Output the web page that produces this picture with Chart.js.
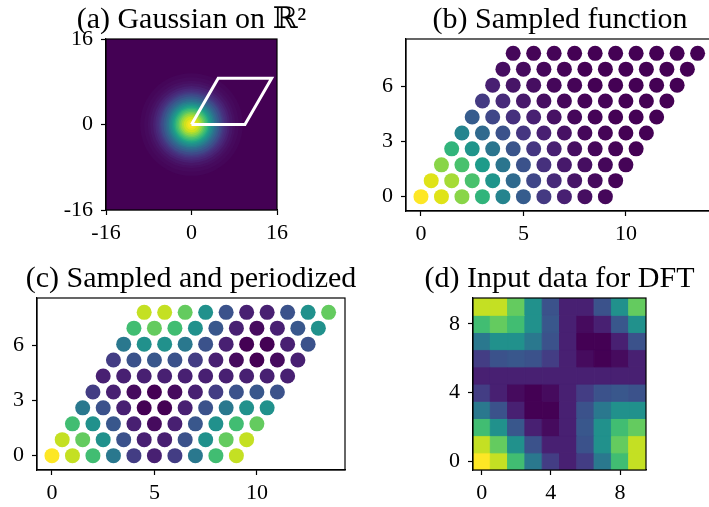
<!DOCTYPE html>
<html>
<head>
<meta charset="utf-8">
<script src="https://cdn.jsdelivr.net/npm/chart.js@4.4.1/dist/chart.umd.min.js"></script>
<style>
  html, body { margin: 0; padding: 0; background: #fff; overflow: hidden; }
  body { width: 709px; height: 507px; position: relative; }
  canvas { position: absolute; }
</style>
</head>
<body>
<canvas id="gaussChart" width="383" height="254" style="left:0;top:0"></canvas>
<canvas id="sampledChart" width="400" height="254" style="left:360px;top:0"></canvas>
<canvas id="periodicChart" width="382" height="253" style="left:0;top:254px"></canvas>
<canvas id="dftChart" width="301" height="253" style="left:409px;top:254px"></canvas>
<script>
// Values

// (a) Gaussian: level -> radius where the image reaches that level
const gaussLevels = [0.01, 0.02, 0.035, 0.05, 0.075, 0.1, 0.125, 0.15, 0.175, 0.2, 0.25, 0.3, 0.35, 0.4,
    0.45, 0.5, 0.55, 0.6, 0.65, 0.7, 0.75, 0.8, 0.85, 0.9, 0.95, 0.98];
const gaussRadii = [9.6, 8.85, 8.19, 7.74, 7.2, 6.79, 6.45, 6.16, 5.9, 5.67, 5.27, 4.91, 4.58, 4.28,
    4.0, 3.72, 3.46, 3.2, 2.94, 2.67, 2.4, 2.11, 1.8, 1.45, 1.01, 0.64];
// period cell (white outline)
const cellX = [0, 10, 15, 5, 0];
const cellY = [0, 0, 8.66, 8.66, 0];

// lattice rows (b), (c)
const rowShift = [0, 0.5, 1, 1.5, 2, 2.5, 3, 3.5, 4, 4.5];
const rowHeight = [0, 0.87, 1.73, 2.6, 3.46, 4.33, 5.2, 6.06, 6.93, 7.79];
const colIndex = [0, 1, 2, 3, 4, 5, 6, 7, 8, 9];

// (b) sampled values, row j = 0 (bottom) .. 9 (top)
const sampledValues = [
    [1.00, 0.95, 0.82, 0.64, 0.45, 0.29, 0.17, 0.09, 0.04, 0.02],
    [0.95, 0.86, 0.71, 0.52, 0.35, 0.21, 0.12, 0.06, 0.03, 0.01],
    [0.82, 0.71, 0.55, 0.39, 0.25, 0.14, 0.07, 0.04, 0.02, 0.01],
    [0.64, 0.52, 0.39, 0.26, 0.16, 0.09, 0.04, 0.02, 0.01, 0.00],
    [0.45, 0.35, 0.25, 0.16, 0.09, 0.05, 0.02, 0.01, 0.00, 0.00],
    [0.29, 0.21, 0.14, 0.09, 0.05, 0.02, 0.01, 0.00, 0.00, 0.00],
    [0.17, 0.12, 0.07, 0.04, 0.02, 0.01, 0.01, 0.00, 0.00, 0.00],
    [0.09, 0.06, 0.04, 0.02, 0.01, 0.00, 0.00, 0.00, 0.00, 0.00],
    [0.04, 0.03, 0.02, 0.01, 0.00, 0.00, 0.00, 0.00, 0.00, 0.00],
    [0.02, 0.01, 0.01, 0.00, 0.00, 0.00, 0.00, 0.00, 0.00, 0.00]
];

// (c) and (d) periodized values, same layout
const periodicValues = [
    [1.00, 0.91, 0.69, 0.40, 0.18, 0.09, 0.18, 0.40, 0.69, 0.91],
    [0.91, 0.76, 0.50, 0.25, 0.09, 0.09, 0.25, 0.50, 0.76, 0.91],
    [0.69, 0.50, 0.27, 0.09, 0.03, 0.09, 0.27, 0.50, 0.69, 0.76],
    [0.40, 0.25, 0.09, 0.00, 0.00, 0.09, 0.25, 0.40, 0.50, 0.50],
    [0.18, 0.09, 0.03, 0.00, 0.03, 0.09, 0.18, 0.25, 0.27, 0.25],
    [0.09, 0.09, 0.09, 0.09, 0.09, 0.09, 0.09, 0.09, 0.09, 0.09],
    [0.18, 0.25, 0.27, 0.25, 0.18, 0.09, 0.03, 0.00, 0.03, 0.09],
    [0.40, 0.50, 0.50, 0.40, 0.25, 0.09, 0.00, 0.00, 0.09, 0.25],
    [0.69, 0.76, 0.69, 0.50, 0.27, 0.09, 0.03, 0.09, 0.27, 0.50],
    [0.91, 0.91, 0.76, 0.50, 0.25, 0.09, 0.09, 0.25, 0.50, 0.76]
];

const gaussTicks = [-16, 0, 16];
const latticeXTicks = [0, 5, 10];
const latticeYTicks = [0, 3, 6];
const dftTicks = [0, 4, 8];

// Colormap
const VIRIDIS = ['#440154', '#471164', '#482475', '#46337f', '#414487', '#3b528b', '#355f8d',
    '#306a8e', '#2a788e', '#25848e', '#21918c', '#1e9b8a', '#22a884', '#35b779', '#44bf70',
    '#5ec962', '#7ad151', '#9fda3a', '#bddf26', '#dfe318', '#fde725'];

function viridis(t) {
    t = Math.max(0, Math.min(1, t));
    const pos = t * (VIRIDIS.length - 1);
    const i = Math.min(VIRIDIS.length - 2, Math.floor(pos));
    const f = pos - i;
    const a = parseInt(VIRIDIS[i].slice(1), 16), b = parseInt(VIRIDIS[i + 1].slice(1), 16);
    const mix = sh => Math.round(((a >> sh) & 255) * (1 - f) + ((b >> sh) & 255) * f);
    return `rgb(${mix(16)},${mix(8)},${mix(0)})`;
}

const SERIF = "'Liberation Serif', 'DejaVu Serif', serif";

// Helpers
function makeScale(min, max, ticks, side, size) {
    return {
        type: 'linear', min, max,
        afterBuildTicks: axis => { axis.ticks = ticks.map(value => ({ value })); },
        afterFit: axis => { if (side === 'y') axis.width = size; else axis.height = size; },
        grid: { drawOnChartArea: false, drawTicks: true, tickLength: 5, tickWidth: 1.2, tickColor: '#000' },
        border: { display: true, color: '#000', width: 1.2 },
        ticks: {
            color: '#000', font: { family: SERIF, size: 22 }, padding: side === 'y' ? 8 : 5,
            autoSkip: false, maxRotation: 0, callback: v => String(v)
        }
    };
}

// empty right-hand box so the canvas is centred on the plot area (title centres on it)
function spacer(size) {
    return {
        type: 'linear', position: 'right', display: true,
        grid: { display: false }, border: { display: false }, ticks: { display: false },
        afterFit: axis => { axis.width = size; }
    };
}

const framePlugin = {
    id: 'frame',
    afterDraw(chart) {
        const { ctx, chartArea: a } = chart;
        ctx.save();
        ctx.strokeStyle = '#000';
        ctx.lineWidth = 1.2;
        ctx.strokeRect(a.left, a.top, a.right - a.left, a.bottom - a.top);
        ctx.restore();
    }
};

const backdropPlugin = {
    id: 'backdrop',
    beforeDatasetsDraw(chart) {
        const { ctx, chartArea: a } = chart;
        ctx.save();
        ctx.fillStyle = viridis(0);
        ctx.fillRect(a.left, a.top, a.right - a.left, a.bottom - a.top);
        ctx.restore();
    }
};

function baseOptions(title, titleTop, side, xHeight, xr, yr, xt, yt) {
    return {
        responsive: false, animation: false, devicePixelRatio: 1, events: [],
        layout: { padding: 0 },
        plugins: {
            legend: { display: false },
            tooltip: { enabled: false },
            title: {
                display: true, text: title, color: '#000',
                font: { family: SERIF, size: 30, weight: 'normal', lineHeight: 1 },
                padding: { top: titleTop, bottom: 4 }
            }
        },
        scales: {
            x: makeScale(xr[0], xr[1], xt, 'x', xHeight),
            y: makeScale(yr[0], yr[1], yt, 'y', side),
            pad: spacer(side)
        }
    };
}

function latticePoints(values) {
    const pts = [];
    rowHeight.forEach((y, j) => colIndex.forEach(i => pts.push({ x: rowShift[j] + i, y, v: values[j][i] })));
    return pts;
}

function pxPerUnit(chart) {
    const s = chart.scales.x;
    return Math.abs(s.getPixelForValue(1) - s.getPixelForValue(0));
}

// (a) Gaussian on R^2
new Chart(document.getElementById('gaussChart'), {
    type: 'scatter',
    data: {
        datasets: [{
            data: cellX.map((x, k) => ({ x, y: cellY[k] })),
            showLine: true, borderColor: '#fff', borderWidth: 3, pointRadius: 0, fill: false
        }, {
            data: gaussRadii.map((rad, k) => ({ x: 0, y: 0, rad, v: gaussLevels[k] })),
            pointRadius: ctx => ctx.raw.rad * pxPerUnit(ctx.chart),
            backgroundColor: ctx => {
                const k = ctx.dataIndex;
                const hi = k + 1 < gaussLevels.length ? gaussLevels[k + 1] : 1;
                return viridis((gaussLevels[k] + hi) / 2);
            },
            borderWidth: 0, clip: 0
        }]
    },
    options: baseOptions('(a) Gaussian on \u211D\u00B2', 5, 106, 44, [-16, 16], [-16, 16], gaussTicks, gaussTicks),
    plugins: [backdropPlugin, framePlugin]
});

// (b) Sampled function
new Chart(document.getElementById('sampledChart'), {
    type: 'scatter',
    data: {
        datasets: [{
            data: latticePoints(sampledValues),
            pointRadius: 7.5, borderWidth: 0,
            backgroundColor: ctx => viridis(ctx.raw.v)
        }]
    },
    options: baseOptions('(b) Sampled function', 5, 46, 43, [-0.73, 14.3], [-0.78, 8.57], latticeXTicks, latticeYTicks),
    plugins: [framePlugin]
});

// (c) Sampled and periodized
new Chart(document.getElementById('periodicChart'), {
    type: 'scatter',
    data: {
        datasets: [{
            data: latticePoints(periodicValues),
            pointRadius: 7.5, borderWidth: 0,
            backgroundColor: ctx => viridis(ctx.raw.v)
        }]
    },
    options: baseOptions('(c) Sampled and periodized', 10, 37, 37, [-0.73, 14.3], [-0.78, 8.57], latticeXTicks, latticeYTicks),
    plugins: [framePlugin]
});

// (d) Input data for DFT
const dftCells = [];
periodicValues.forEach((row, j) => row.forEach((v, i) => dftCells.push({ x: colIndex[i], y: j, v })));

new Chart(document.getElementById('dftChart'), {
    type: 'scatter',
    data: {
        datasets: [{
            data: dftCells,
            pointStyle: 'rect',
            pointRadius: ctx => pxPerUnit(ctx.chart) * Math.SQRT1_2,
            backgroundColor: ctx => viridis(ctx.raw.v),
            borderColor: ctx => viridis(ctx.raw.v),
            borderWidth: 1, clip: 0
        }]
    },
    options: baseOptions('(d) Input data for DFT', 10, 64, 37, [-0.5, 9.5], [-0.5, 9.5], dftTicks, dftTicks),
    plugins: [framePlugin]
});
</script>
</body>
</html>
